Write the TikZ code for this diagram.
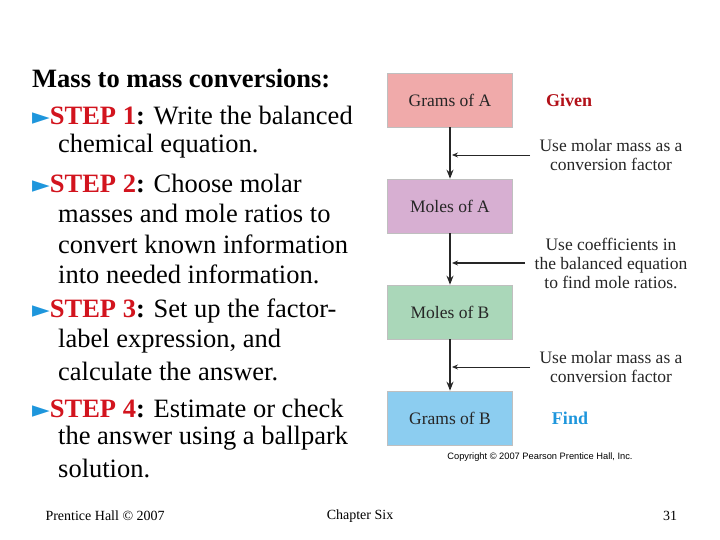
\documentclass[tikz,border=0pt]{standalone}
\usepackage{fontspec}
\setmainfont{Liberation Serif}
\newfontfamily\dv{DejaVu Sans}
\newfontfamily\lsans{Liberation Sans}
\usetikzlibrary{arrows.meta}
\definecolor{stepred}{RGB}{210,20,30}
\definecolor{bul}{RGB}{30,150,220}
\definecolor{bA}{RGB}{240,170,170}
\definecolor{bB}{RGB}{215,175,210}
\definecolor{bC}{RGB}{170,215,185}
\definecolor{bD}{RGB}{140,205,240}
\newcommand{\bu}{{\color{bul}\dv\fontsize{23}{23}\selectfont ►}}
\newcommand{\stp}[1]{{\color{stepred}\bfseries STEP #1}\textbf{:}}
\begin{document}
\begin{tikzpicture}[x=1pt,y=-1pt,
 txt/.style={anchor=west,inner sep=0,font=\fontsize{26.5}{26.5}\selectfont},
 box/.style={draw=black!25,line width=0.6pt,minimum width=125pt,minimum height=54pt,inner sep=0,font=\fontsize{17.5}{17.5}\selectfont,text=black!85},
 note/.style={align=center,font=\fontsize{17.5}{19}\selectfont,text=black!85,inner sep=0},
 dn/.style={-{Stealth[length=9pt,width=7pt]},line width=2pt,black!85},
 sd/.style={-{Stealth[length=6pt,width=5pt]},line width=0.8pt,black!85}]
\useasboundingbox (0,0) rectangle (720,540);
\node[txt] (t0) at (32,78) {\textbf{Mass to mass conversions:}};
\node[txt] (l1) at (32,116) {\bu\stp{1} Write the balanced};
\node[txt] (l2) at (58,146) {chemical equation.};
\node[txt] (l3) at (32,183) {\bu\stp{2} Choose molar};
\node[txt] (l4) at (58,213) {masses and mole ratios to};
\node[txt] (l5) at (58,244) {convert known information};
\node[txt] (l6) at (58,274) {into needed information.};
\node[txt] (l7) at (32,311) {\bu\stp{3} Set up the factor-};
\node[txt] (l8) at (58,341) {label expression, and};
\node[txt] (l9) at (58,371) {calculate the answer.};
\node[txt] (l10) at (32,408) {\bu\stp{4} Estimate or check};
\node[txt] (l11) at (58,438) {the answer using a ballpark};
\node[txt] (l12) at (58,468) {solution.};
\node[box,fill=bA] (b1) at (450,100) {Grams of A};
\node[box,fill=bB] (b2) at (450,206) {Moles of A};
\node[box,fill=bC] (b3) at (450,312) {Moles of B};
\node[box,fill=bD] (b4) at (450,418) {Grams of B};
\node[font=\bfseries\fontsize{18}{18}\selectfont,text=stepred!85!black] (g) at (569,100) {Given};
\node[font=\bfseries\fontsize{18}{18}\selectfont,text=bul] (f) at (570,418) {Find};
\draw[dn] (b1) -- (b2);
\draw[dn] (b2) -- (b3);
\draw[dn] (b3) -- (b4);
\node[note] (n1) at (611,155) {Use molar mass as a\\conversion factor};
\node[note] (n2) at (611,263) {Use coefficients in\\the balanced equation\\to find mole ratios.};
\node[note] (n3) at (611,367) {Use molar mass as a\\conversion factor};
\coordinate (e1) at (452,155); \coordinate (e2) at (452,263); \coordinate (e3) at (452,367);
\coordinate (s1) at (530,155); \coordinate (s2) at (525,263); \coordinate (s3) at (530,367);
\draw[sd] (s1) -- (e1);
\draw[sd,line width=1.4pt] (s2) -- (e2);
\draw[sd] (s3) -- (e3);
\node[font=\lsans\fontsize{9.3}{9.3}\selectfont] (cp) at (540,457) {Copyright \copyright\ 2007 Pearson Prentice Hall, Inc.};
\node[anchor=west,font=\fontsize{14}{14}\selectfont] (ft1) at (42,516) {Prentice Hall \copyright\ 2007};
\node[font=\fontsize{14}{14}\selectfont] (ft2) at (360,516) {Chapter Six};
\node[font=\fontsize{14}{14}\selectfont] (ft3) at (670,516) {31};
\end{tikzpicture}
\end{document}
